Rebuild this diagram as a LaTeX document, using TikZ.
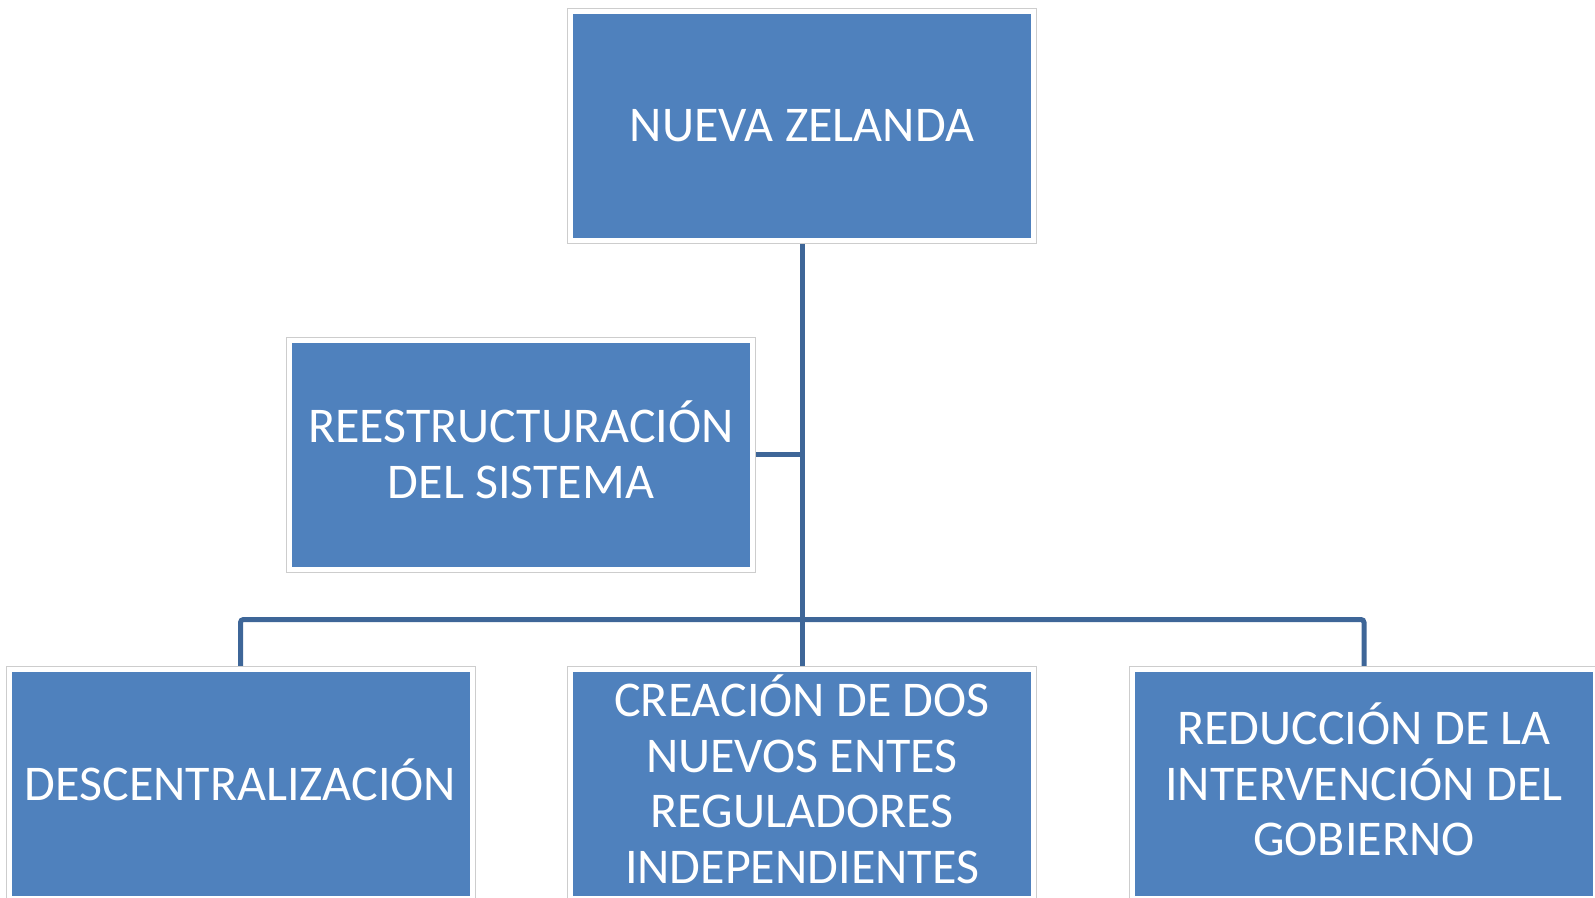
\documentclass[tikz,border=0pt]{standalone}
\usepackage{fontspec}
\setmainfont{Carlito}
\usetikzlibrary{backgrounds}
\definecolor{boxblue}{RGB}{79,129,189}
\definecolor{connblue}{RGB}{62,102,152}
\definecolor{framegray}{RGB}{205,205,205}
\newcommand{\Oac}{\smash{Ó}}
\tikzset{
  orgbox/.style={rectangle, fill=boxblue, draw=white, line width=5pt,
    preaction={draw=framegray, line width=7pt},
    minimum width=463pt, minimum height=229pt, inner sep=0pt,
    align=center, text=white, font=\fontsize{50}{55.5}\selectfont},
  conn/.style={draw=connblue, line width=5pt, rounded corners=3pt}
}
\begin{document}
\begin{tikzpicture}[x=1pt,y=-1pt]
\useasboundingbox (0,0) rectangle (1595,897);
\node[orgbox] (top) at (802,125.5) {NUEVA ZELANDA};
\node[orgbox] (reest) at (521,454.5) {REESTRUCTURACI\Oac N\\DEL SISTEMA};
\node[orgbox] (left) at (240.5,784) {DESCENTRALIZACI\Oac N};
\node[orgbox] (mid) at (802,784) {CREACI\Oac N DE DOS\\NUEVOS ENTES\\REGULADORES\\INDEPENDIENTES};
\node[orgbox] (right) at (1364,784) {REDUCCI\Oac N DE LA\\INTERVENCI\Oac N DEL\\GOBIERNO};
\coordinate (bus) at (802,619.5);
\begin{scope}[on background layer]
\draw[conn] (top.south) -- (mid.north);
\draw[conn] (left.north) |- (bus) -| (right.north);
\draw[conn] (reest.east) -- (reest.east -| top.south);
\end{scope}
\end{tikzpicture}
\end{document}
